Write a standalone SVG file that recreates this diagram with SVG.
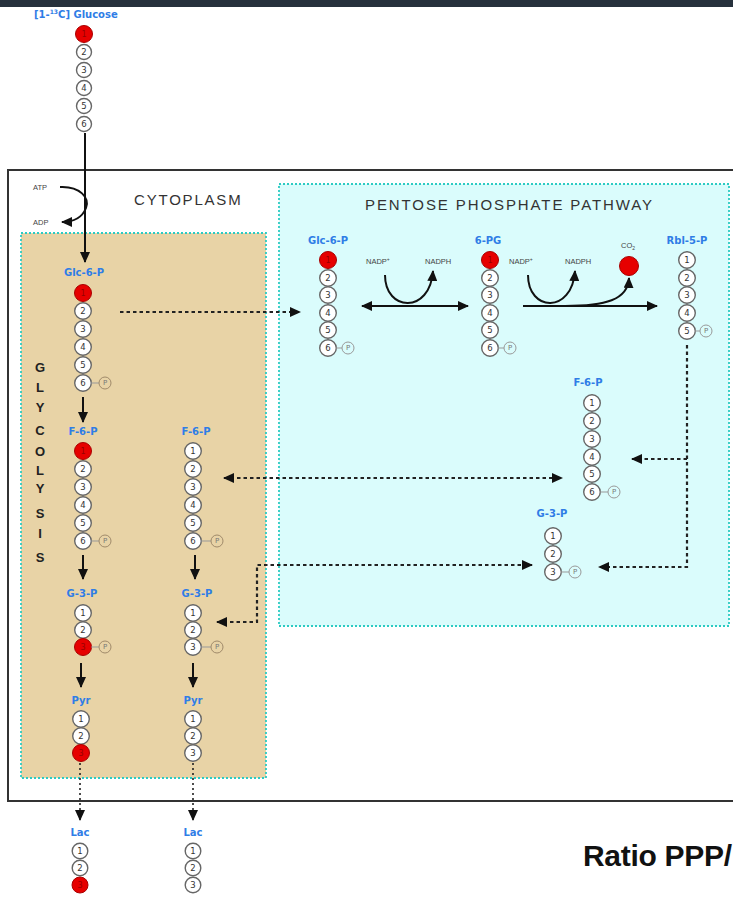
<svg xmlns="http://www.w3.org/2000/svg" width="733" height="900" viewBox="0 0 733 900">
<style>
.c{fill:#fff;stroke:#666;stroke-width:1.4}
.r{fill:#e60000;stroke:#a00;stroke-width:1}
.p{fill:none;stroke:#999;stroke-width:1}
.pt{fill:none;stroke:#a08a6a;stroke-width:1}
.n{font-family:"DejaVu Sans",sans-serif;font-size:8.5px;fill:#333;text-anchor:middle;dominant-baseline:central}
.nr{font-family:"DejaVu Sans",sans-serif;font-size:8px;fill:#900;text-anchor:middle;dominant-baseline:central}
.pn{font-family:"DejaVu Sans",sans-serif;font-size:7px;fill:#777;text-anchor:middle;dominant-baseline:central}
.lb{font-family:"DejaVu Sans",sans-serif;font-size:10px;font-weight:bold;fill:#2f7de6;text-anchor:middle}
.sm{font-family:"Liberation Sans",sans-serif;font-size:7.5px;fill:#444}
.ar{fill:none;stroke:#111;stroke-width:2}
.da{fill:none;stroke:#222;stroke-width:2.2;stroke-dasharray:3.5,3}
.dt{fill:none;stroke:#222;stroke-width:1.6;stroke-dasharray:2,3}
.gl{font-family:"Liberation Sans",sans-serif;font-size:13px;font-weight:bold;fill:#222;text-anchor:middle}
.lk{stroke:#999;stroke-width:1}
</style>
<defs>
<marker id="ah" markerUnits="userSpaceOnUse" markerWidth="11" markerHeight="10" refX="10" refY="5" orient="auto-start-reverse">
<path d="M0,0 L11,5 L0,10 z" fill="#111"/>
</marker>
</defs>
<rect x="0" y="0" width="733" height="7" fill="#26313c"/>
<rect x="0" y="7" width="733" height="893" fill="#fff"/>
<!-- compartments -->
<rect x="8" y="170" width="740" height="631" fill="#fff" stroke="#333" stroke-width="2"/>
<rect x="21" y="233" width="245" height="545" fill="#e8d3a6" stroke="#2ccbc3" stroke-width="1.8" stroke-dasharray="2,2"/>
<rect x="279" y="184" width="450" height="442" fill="#dafcfc" stroke="#2ccbc3" stroke-width="1.8" stroke-dasharray="2,2"/>
<text x="134" y="205" font-family="Liberation Sans,sans-serif" font-size="15" letter-spacing="1.8" fill="#333">CYTOPLASM</text>
<text x="365" y="210" font-family="Liberation Sans,sans-serif" font-size="15" letter-spacing="1.9" fill="#333">PENTOSE PHOSPHATE PATHWAY</text>
<g id="glycolysis-label">
<text class="gl" x="40" y="372">G</text><text class="gl" x="40" y="392">L</text><text class="gl" x="40" y="412">Y</text><text class="gl" x="40" y="435">C</text><text class="gl" x="40" y="456">O</text><text class="gl" x="40" y="475">L</text><text class="gl" x="40" y="493">Y</text><text class="gl" x="40" y="518">S</text><text class="gl" x="40" y="538">I</text><text class="gl" x="40" y="562">S</text>
</g>
<!-- connectors -->
<g id="connectors">
<path class="ar" d="M85,133 V262" marker-end="url(#ah)"/>
<path class="ar" d="M60,187 C80,186 90,198 86,208 C82,218 74,222 62,222" stroke-width="1.8" marker-end="url(#ah)"/>
<path class="ar" d="M83,397 V422" marker-end="url(#ah)"/>
<path class="ar" d="M83,555 V579" marker-end="url(#ah)"/>
<path class="ar" d="M81,663 V687" marker-end="url(#ah)"/>
<path class="ar" d="M195,555 V579" marker-end="url(#ah)"/>
<path class="ar" d="M193,663 V687" marker-end="url(#ah)"/>
<path class="dt" d="M80,763 V820" marker-end="url(#ah)"/>
<path class="dt" d="M193,763 V820" marker-end="url(#ah)"/>
<path class="da" d="M120,312 H300" marker-end="url(#ah)"/>
<path class="da" d="M224,478 H562" marker-start="url(#ah)" marker-end="url(#ah)"/>
<path class="da" d="M217,622 H257 V565 H532" marker-start="url(#ah)" marker-end="url(#ah)"/>
<path class="da" d="M687,345 V567 H599" marker-end="url(#ah)"/>
<path class="da" d="M687,459 H632" marker-end="url(#ah)"/>
<path class="ar" d="M362,306 H468" marker-start="url(#ah)" marker-end="url(#ah)"/>
<path class="ar" d="M385,275 C385,312 430,314 433,271" marker-end="url(#ah)"/>
<path class="ar" d="M523,306 H657" marker-end="url(#ah)"/>
<path class="ar" d="M528,275 C528,312 572,314 575,271" marker-end="url(#ah)"/>
<path class="ar" d="M565,306 C605,306 628,300 629,278" marker-end="url(#ah)"/>
</g>
<!-- cofactor labels -->
<text class="sm" x="33" y="190">ATP</text>
<text class="sm" x="33" y="225">ADP</text>
<text class="sm" x="366" y="264">NADP<tspan font-size="5" dy="-3">+</tspan></text>
<text class="sm" x="425" y="264">NADPH</text>
<text class="sm" x="509" y="264">NADP<tspan font-size="5" dy="-3">+</tspan></text>
<text class="sm" x="565" y="264">NADPH</text>
<!-- glucose -->
<g id="glucose">
<text x="34" y="18" font-family="DejaVu Sans,sans-serif" font-size="10" font-weight="bold" fill="#2f7de6">[1-<tspan font-size="6" dy="-4">13</tspan><tspan dy="4">C] Glucose</tspan></text>
<circle class="r" cx="84" cy="34" r="8.5"/><text class="nr" x="84" y="34">1</text>
<circle class="c" cx="84" cy="52" r="7.5"/><text class="n" x="84" y="52">2</text>
<circle class="c" cx="84" cy="70" r="7.5"/><text class="n" x="84" y="70">3</text>
<circle class="c" cx="84" cy="88" r="7.5"/><text class="n" x="84" y="88">4</text>
<circle class="c" cx="84" cy="106" r="7.5"/><text class="n" x="84" y="106">5</text>
<circle class="c" cx="84" cy="124" r="7.5"/><text class="n" x="84" y="124">6</text>
</g>
<!-- glycolysis column A -->
<g id="glc6p-a">
<text class="lb" x="84" y="276">Glc-6-P</text>
<circle class="r" cx="83" cy="293" r="8.5"/><text class="nr" x="83" y="293">1</text>
<circle class="c" cx="83" cy="311" r="8.3"/><text class="n" x="83" y="311">2</text>
<circle class="c" cx="83" cy="329" r="8.3"/><text class="n" x="83" y="329">3</text>
<circle class="c" cx="83" cy="347" r="8.3"/><text class="n" x="83" y="347">4</text>
<circle class="c" cx="83" cy="365" r="8.3"/><text class="n" x="83" y="365">5</text>
<circle class="c" cx="83" cy="383" r="8.3"/><text class="n" x="83" y="383">6</text>
<line class="lk" x1="91" y1="383" x2="99" y2="383"/><circle class="pt" cx="105" cy="383" r="6"/><text class="pn" x="105" y="383">P</text>
</g>
<g id="f6p-a">
<text class="lb" x="83" y="435">F-6-P</text>
<circle class="r" cx="83" cy="451" r="8.5"/><text class="nr" x="83" y="451">1</text>
<circle class="c" cx="83" cy="469" r="8.3"/><text class="n" x="83" y="469">2</text>
<circle class="c" cx="83" cy="487" r="8.3"/><text class="n" x="83" y="487">3</text>
<circle class="c" cx="83" cy="505" r="8.3"/><text class="n" x="83" y="505">4</text>
<circle class="c" cx="83" cy="523" r="8.3"/><text class="n" x="83" y="523">5</text>
<circle class="c" cx="83" cy="541" r="8.3"/><text class="n" x="83" y="541">6</text>
<line class="lk" x1="91" y1="541" x2="99" y2="541"/><circle class="pt" cx="105" cy="541" r="6"/><text class="pn" x="105" y="541">P</text>
</g>
<g id="g3p-a">
<text class="lb" x="82" y="597">G-3-P</text>
<circle class="c" cx="83" cy="613" r="8.3"/><text class="n" x="83" y="613">1</text>
<circle class="c" cx="83" cy="630" r="8.3"/><text class="n" x="83" y="630">2</text>
<circle class="r" cx="83" cy="647" r="8.5"/><text class="nr" x="83" y="647">3</text>
<line class="lk" x1="91" y1="647" x2="99" y2="647"/><circle class="pt" cx="105" cy="647" r="6"/><text class="pn" x="105" y="647">P</text>
</g>
<g id="pyr-a">
<text class="lb" x="81" y="704">Pyr</text>
<circle class="c" cx="81" cy="719" r="8.3"/><text class="n" x="81" y="719">1</text>
<circle class="c" cx="81" cy="736" r="8.3"/><text class="n" x="81" y="736">2</text>
<circle class="r" cx="81" cy="753" r="8.5"/><text class="nr" x="81" y="753">3</text>
</g>
<g id="lac-a">
<text class="lb" x="80" y="836">Lac</text>
<circle class="c" cx="80" cy="851" r="7.8"/><text class="n" x="80" y="851">1</text>
<circle class="c" cx="80" cy="868" r="7.8"/><text class="n" x="80" y="868">2</text>
<circle class="r" cx="80" cy="885" r="8"/><text class="nr" x="80" y="885">3</text>
</g>
<!-- glycolysis column B -->
<g id="f6p-b">
<text class="lb" x="196" y="435">F-6-P</text>
<circle class="c" cx="193" cy="451" r="8.3"/><text class="n" x="193" y="451">1</text>
<circle class="c" cx="193" cy="469" r="8.3"/><text class="n" x="193" y="469">2</text>
<circle class="c" cx="193" cy="487" r="8.3"/><text class="n" x="193" y="487">3</text>
<circle class="c" cx="193" cy="505" r="8.3"/><text class="n" x="193" y="505">4</text>
<circle class="c" cx="193" cy="523" r="8.3"/><text class="n" x="193" y="523">5</text>
<circle class="c" cx="193" cy="541" r="8.3"/><text class="n" x="193" y="541">6</text>
<line class="lk" x1="201" y1="541" x2="211" y2="541"/><circle class="pt" cx="217" cy="541" r="6"/><text class="pn" x="217" y="541">P</text>
</g>
<g id="g3p-b">
<text class="lb" x="197" y="597">G-3-P</text>
<circle class="c" cx="193" cy="613" r="8.3"/><text class="n" x="193" y="613">1</text>
<circle class="c" cx="193" cy="630" r="8.3"/><text class="n" x="193" y="630">2</text>
<circle class="c" cx="193" cy="647" r="8.3"/><text class="n" x="193" y="647">3</text>
<line class="lk" x1="201" y1="647" x2="211" y2="647"/><circle class="pt" cx="217" cy="647" r="6"/><text class="pn" x="217" y="647">P</text>
</g>
<g id="pyr-b">
<text class="lb" x="193" y="704">Pyr</text>
<circle class="c" cx="193" cy="719" r="8.3"/><text class="n" x="193" y="719">1</text>
<circle class="c" cx="193" cy="736" r="8.3"/><text class="n" x="193" y="736">2</text>
<circle class="c" cx="193" cy="753" r="8.3"/><text class="n" x="193" y="753">3</text>
</g>
<g id="lac-b">
<text class="lb" x="193" y="836">Lac</text>
<circle class="c" cx="193" cy="851" r="7.8"/><text class="n" x="193" y="851">1</text>
<circle class="c" cx="193" cy="868" r="7.8"/><text class="n" x="193" y="868">2</text>
<circle class="c" cx="193" cy="885" r="7.8"/><text class="n" x="193" y="885">3</text>
</g>
<!-- PPP -->
<g id="glc6p-ppp">
<text class="lb" x="328" y="244">Glc-6-P</text>
<circle class="r" cx="328" cy="260" r="8.5"/><text class="nr" x="328" y="260">1</text>
<circle class="c" cx="328" cy="278" r="8.3"/><text class="n" x="328" y="278">2</text>
<circle class="c" cx="328" cy="295" r="8.3"/><text class="n" x="328" y="295">3</text>
<circle class="c" cx="328" cy="313" r="8.3"/><text class="n" x="328" y="313">4</text>
<circle class="c" cx="328" cy="330" r="8.3"/><text class="n" x="328" y="330">5</text>
<circle class="c" cx="328" cy="348" r="8.3"/><text class="n" x="328" y="348">6</text>
<line class="lk" x1="336" y1="348" x2="342" y2="348"/><circle class="p" cx="348" cy="348" r="6"/><text class="pn" x="348" y="348">P</text>
</g>
<g id="6pg">
<text class="lb" x="488" y="244">6-PG</text>
<circle class="r" cx="490" cy="260" r="8.5"/><text class="nr" x="490" y="260">1</text>
<circle class="c" cx="490" cy="278" r="8.3"/><text class="n" x="490" y="278">2</text>
<circle class="c" cx="490" cy="295" r="8.3"/><text class="n" x="490" y="295">3</text>
<circle class="c" cx="490" cy="313" r="8.3"/><text class="n" x="490" y="313">4</text>
<circle class="c" cx="490" cy="330" r="8.3"/><text class="n" x="490" y="330">5</text>
<circle class="c" cx="490" cy="348" r="8.3"/><text class="n" x="490" y="348">6</text>
<line class="lk" x1="498" y1="348" x2="504" y2="348"/><circle class="p" cx="510" cy="348" r="6"/><text class="pn" x="510" y="348">P</text>
</g>
<g id="co2">
<text class="sm" x="628" y="248" text-anchor="middle" font-size="7">CO<tspan font-size="5" dy="2">2</tspan></text>
<circle class="r" cx="629" cy="266" r="9.5"/>
</g>
<g id="rbl5p">
<text class="lb" x="687" y="244">Rbl-5-P</text>
<circle class="c" cx="687" cy="260" r="8.3"/><text class="n" x="687" y="260">1</text>
<circle class="c" cx="687" cy="278" r="8.3"/><text class="n" x="687" y="278">2</text>
<circle class="c" cx="687" cy="295" r="8.3"/><text class="n" x="687" y="295">3</text>
<circle class="c" cx="687" cy="313" r="8.3"/><text class="n" x="687" y="313">4</text>
<circle class="c" cx="687" cy="331" r="8.3"/><text class="n" x="687" y="331">5</text>
<line class="lk" x1="695" y1="331" x2="700" y2="331"/><circle class="p" cx="706" cy="331" r="6"/><text class="pn" x="706" y="331">P</text>
</g>
<g id="f6p-ppp">
<text class="lb" x="588" y="386">F-6-P</text>
<circle class="c" cx="592" cy="403" r="8.3"/><text class="n" x="592" y="403">1</text>
<circle class="c" cx="592" cy="421" r="8.3"/><text class="n" x="592" y="421">2</text>
<circle class="c" cx="592" cy="439" r="8.3"/><text class="n" x="592" y="439">3</text>
<circle class="c" cx="592" cy="457" r="8.3"/><text class="n" x="592" y="457">4</text>
<circle class="c" cx="592" cy="474" r="8.3"/><text class="n" x="592" y="474">5</text>
<circle class="c" cx="592" cy="492" r="8.3"/><text class="n" x="592" y="492">6</text>
<line class="lk" x1="600" y1="492" x2="608" y2="492"/><circle class="p" cx="614" cy="492" r="6"/><text class="pn" x="614" y="492">P</text>
</g>
<g id="g3p-ppp">
<text class="lb" x="552" y="517">G-3-P</text>
<circle class="c" cx="553" cy="536" r="8.3"/><text class="n" x="553" y="536">1</text>
<circle class="c" cx="553" cy="554" r="8.3"/><text class="n" x="553" y="554">2</text>
<circle class="c" cx="553" cy="572" r="8.3"/><text class="n" x="553" y="572">3</text>
<line class="lk" x1="561" y1="572" x2="569" y2="572"/><circle class="p" cx="575" cy="572" r="6"/><text class="pn" x="575" y="572">P</text>
</g>
<text x="583" y="866" font-family="Liberation Sans,sans-serif" font-size="30" font-weight="bold" letter-spacing="-0.3" fill="#111">Ratio PPP/</text>
</svg>
